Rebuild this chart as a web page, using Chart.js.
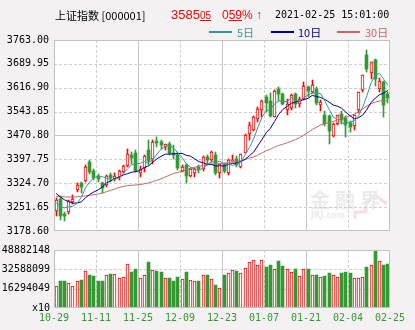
<!DOCTYPE html>
<html>
<head>
<meta charset="utf-8">
<script src="https://cdn.jsdelivr.net/npm/chart.js@4.4.0/dist/chart.umd.min.js"></script>
<style>
  body { margin: 0; width: 415px; height: 330px; overflow: hidden; position: relative; background: #f3f1f2; font-family: "Noto Sans CJK SC", sans-serif; }
  canvas { position: absolute; left: 0; }
  #kline { top: 0; }
  #volume { top: 240px; }
  .t { position: absolute; white-space: nowrap; line-height: 14px; }
  .mono { font-family: "DejaVu Sans Mono", monospace; }
  .key { position: absolute; height: 2px; width: 23px; }
</style>
</head>
<body>
<canvas id="kline" width="415" height="242"></canvas>
<canvas id="volume" width="415" height="90"></canvas>

<div class="t" style="left:55px;top:8px;font-size:11px;color:#000">上证指数 [000001]</div>
<div class="t" id="price" style="left:171px;top:8px;font-size:13px;color:#ff0000;font-family:'Liberation Sans',sans-serif"></div>
<div class="t" id="change" style="left:222px;top:8px;font-size:12px;color:#ff0000;font-family:'Liberation Sans',sans-serif"></div>
<div class="t mono" style="left:275px;top:8px;font-size:10px;color:#000">2021-02-25 15:01:00</div>

<div class="key" style="left:209px;top:31px;background:#339999"></div>
<div class="t" style="left:237px;top:25px;font-size:11px;color:#339999">5日</div>
<div class="key" style="left:271px;top:31px;background:#000099"></div>
<div class="t" style="left:298px;top:25px;font-size:11px;color:#000099">10日</div>
<div class="key" style="left:337px;top:31px;background:#cc6666"></div>
<div class="t" style="left:365px;top:25px;font-size:11px;color:#cc6666">30日</div>

<script>
// 交易日 (MM-DD)
const dates = ['10-29','10-30','11-02','11-03','11-04','11-05','11-06','11-09','11-10','11-11',
  '11-12','11-13','11-16','11-17','11-18','11-19','11-20','11-23','11-24','11-25',
  '11-26','11-27','11-30','12-01','12-02','12-03','12-04','12-07','12-08','12-09',
  '12-10','12-11','12-14','12-15','12-16','12-17','12-18','12-21','12-22','12-23',
  '12-24','12-25','12-28','12-29','12-30','12-31','01-04','01-05','01-06','01-07',
  '01-08','01-11','01-12','01-13','01-14','01-15','01-18','01-19','01-20','01-21',
  '01-22','01-25','01-26','01-27','01-28','01-29','02-01','02-02','02-03','02-04',
  '02-05','02-08','02-09','02-10','02-18','02-19','02-22','02-23','02-24','02-25'];

const opens = [3240, 3276, 3232, 3238, 3268, 3303, 3326, 3332, 3390, 3362,
  3346, 3326, 3318, 3350, 3338, 3343, 3360, 3378, 3412, 3417,
  3355, 3370, 3425, 3400, 3455, 3452, 3435, 3446, 3418, 3412,
  3362, 3380, 3348, 3356, 3374, 3368, 3404, 3395, 3410, 3355,
  3383, 3357, 3392, 3399, 3375, 3417, 3474, 3488, 3520, 3548,
  3590, 3576, 3528, 3612, 3597, 3548, 3556, 3598, 3566, 3584,
  3618, 3605, 3612, 3565, 3535, 3531, 3470, 3507, 3537, 3523,
  3510, 3500, 3548, 3610, 3718, 3661, 3703, 3613, 3636, 3597];

const highs = [3280, 3285, 3238, 3273, 3290, 3325, 3330, 3380, 3395, 3367,
  3352, 3330, 3350, 3355, 3356, 3366, 3380, 3428, 3420, 3425,
  3376, 3412, 3456, 3457, 3465, 3457, 3446, 3452, 3442, 3420,
  3382, 3385, 3372, 3372, 3380, 3409, 3410, 3423, 3420, 3385,
  3388, 3400, 3412, 3407, 3415, 3474, 3512, 3529, 3557, 3578,
  3595, 3600, 3610, 3620, 3602, 3584, 3598, 3600, 3590, 3634,
  3623, 3640, 3620, 3580, 3545, 3534, 3510, 3534, 3545, 3530,
  3515, 3535, 3605, 3656, 3731, 3697, 3705, 3646, 3637, 3605];

const lows = [3224, 3212, 3209, 3230, 3262, 3298, 3296, 3330, 3352, 3335,
  3330, 3294, 3312, 3328, 3332, 3336, 3356, 3373, 3385, 3358,
  3345, 3358, 3380, 3383, 3435, 3428, 3425, 3410, 3400, 3366,
  3360, 3325, 3343, 3345, 3355, 3362, 3380, 3390, 3350, 3340,
  3355, 3350, 3390, 3375, 3372, 3416, 3457, 3484, 3513, 3526,
  3544, 3527, 3526, 3577, 3563, 3533, 3549, 3556, 3558, 3580,
  3589, 3600, 3565, 3546, 3500, 3444, 3465, 3502, 3505, 3466,
  3482, 3489, 3540, 3605, 3665, 3644, 3622, 3604, 3527, 3570];

const closes = [3272.74, 3224.53, 3225.12, 3271.07, 3277.44, 3320.13, 3312.16, 3373.73, 3360.15, 3342.20,
  3338.68, 3310.10, 3346.97, 3339.90, 3347.30, 3363.09, 3377.73, 3414.49, 3402.82, 3362.33,
  3369.73, 3408.31, 3391.76, 3451.94, 3449.38, 3442.14, 3444.58, 3416.60, 3410.18, 3371.96,
  3373.28, 3347.19, 3369.12, 3367.23, 3366.98, 3404.87, 3394.90, 3420.57, 3356.78, 3382.32,
  3363.11, 3396.56, 3397.29, 3379.04, 3414.45, 3473.07, 3502.96, 3528.68, 3550.88, 3576.20,
  3570.11, 3531.50, 3608.34, 3598.65, 3565.90, 3566.38, 3596.22, 3566.28, 3583.09, 3621.26,
  3606.75, 3624.24, 3569.43, 3573.34, 3505.18, 3483.07, 3505.28, 3533.68, 3517.31, 3501.86,
  3496.33, 3532.44, 3603.49, 3655.09, 3675.36, 3696.17, 3642.44, 3636.36, 3564.08, 3585.05];

const volumes = [18980000, 23060000, 23060000, 21200000, 18980000, 23060000, 23870000, 31200000, 27940000, 27130000,
  22500000, 23060000, 27700000, 28760000, 28500000, 25750000, 26300000, 37500000, 30400000, 32600000,
  25500000, 27940000, 38500000, 32000000, 31200000, 30400000, 25500000, 25500000, 23300000, 26300000,
  24700000, 30400000, 23870000, 23300000, 22500000, 27700000, 27940000, 24400000, 19800000, 17100000,
  27900000, 29300000, 32000000, 31200000, 29600000, 33400000, 38500000, 40700000, 36700000, 40700000,
  34500000, 36100000, 32600000, 39300000, 35300000, 32600000, 30400000, 32600000, 27100000, 32600000,
  32600000, 27900000, 27900000, 26300000, 27100000, 29300000, 27700000, 26300000, 29600000, 30600000,
  29600000, 25300000, 25300000, 26300000, 34500000, 35900000, 48800000, 39900000, 36100000, 36900000];

// 10-29 之前的 29 个收盘价, 只用来算均线
const priorCloses = [3234.82, 3260.35, 3278.81, 3295.68, 3283.92, 3270.44, 3338.09, 3316.94, 3274.30, 3279.71,
  3223.18, 3219.42, 3217.53, 3224.36, 3218.05, 3272.08, 3358.47, 3359.75, 3340.48, 3332.18,
  3336.36, 3312.50, 3328.10, 3325.03, 3312.49, 3278.00, 3251.12, 3254.32, 3269.24];

const priceTicks = [3178.60, 3251.65, 3324.70, 3397.75, 3470.80, 3543.85, 3616.90, 3689.95, 3763.00];
const volumeTicks = [0, 16294049, 32588099, 48882148];

const UP = '#ff0000';
const DOWN = '#339933';
const GRID_STEP = 10;
const monoFont = { family: '"DejaVu Sans Mono", monospace', size: 10 };

const isUp = i => closes[i] >= opens[i];

function movingAverage(period) {
  const all = priorCloses.concat(closes);
  const offset = priorCloses.length;
  return closes.map((c, i) => {
    let sum = 0;
    for (let k = offset + i - period + 1; k <= offset + i; k++) sum += all[k];
    return { x: i + 0.5, y: sum / period };
  });
}

// 柱子对齐到整像素, 不然边缘发虚
const snapBars = {
  id: 'snapBars',
  afterDatasetsUpdate(chart) {
    chart.data.datasets.forEach((ds, i) => {
      const meta = chart.getDatasetMeta(i);
      if (meta.type !== 'bar') return;
      meta.data.forEach(el => {
        el.x = Math.floor(el.x) + 0.5;
        el.y = Math.round(el.y);
        el.base = Math.round(el.base);
      });
    });
  }
};

// 白底、网格、外框
const panelGrid = {
  id: 'panelGrid',
  beforeDatasetsDraw(chart, args, opts) {
    const { ctx, chartArea: a, scales: { x, y } } = chart;
    ctx.save();
    ctx.fillStyle = '#ffffff';
    ctx.fillRect(a.left, a.top, a.right - a.left, a.bottom - a.top);
    if (opts.watermark) drawWatermark(ctx, a);
    ctx.lineWidth = 1;
    const line = (x1, y1, x2, y2, solid) => {
      ctx.strokeStyle = solid ? '#c6c6c6' : '#cfcfcf';
      ctx.setLineDash(solid ? [] : [3, 2]);
      ctx.beginPath();
      ctx.moveTo(x1, y1);
      ctx.lineTo(x2, y2);
      ctx.stroke();
    };
    y.ticks.forEach(t => {
      if (t.value <= y.min || t.value >= y.max) return;
      const py = Math.round(y.getPixelForValue(t.value)) + 0.5;
      line(a.left, py, a.right, py, (opts.solidY || []).includes(t.value));
    });
    for (let v = GRID_STEP; v < x.max; v += GRID_STEP) {
      const px = Math.round(x.getPixelForValue(v)) + 0.5;
      line(px, a.top, px, a.bottom, v % (GRID_STEP * 2) === 0);
    }
    ctx.restore();
  },
  afterDatasetsDraw(chart) {
    const { ctx, chartArea: a } = chart;
    ctx.save();
    ctx.strokeStyle = '#c2c2c2';
    ctx.lineWidth = 1;
    ctx.strokeRect(Math.round(a.left) + 0.5, Math.round(a.top) + 0.5,
      Math.round(a.right - a.left) - 1, Math.round(a.bottom - a.top) - 1);
    ctx.restore();
  }
};

// 右下角的淡色水印
function drawWatermark(ctx, a) {
  const r = a.right, b = a.bottom;
  ctx.strokeStyle = '#f8dede';
  ctx.lineWidth = 3;
  ctx.beginPath();
  ctx.moveTo(r - 35, b - 12);
  ctx.lineTo(r - 35, b - 19);
  ctx.lineTo(r - 24, b - 19);
  ctx.lineTo(r - 24, b - 27);
  ctx.lineTo(r - 15, b - 36);
  ctx.lineTo(r - 3, b - 27);
  ctx.stroke();
  ctx.fillStyle = '#ebebeb';
  ctx.font = 'bold 20px "Noto Sans CJK SC"';
  ctx.textBaseline = 'alphabetic';
  ['金', '融', '界'].forEach((ch, k) => ctx.fillText(ch, r - 80 + k * 25, b - 23));
  ctx.font = 'bold 8px "DejaVu Sans"';
  ctx.fillText('JRJ.com', r - 79, b - 13);
}

const barBase = { grouped: false, borderSkipped: false };

new Chart(document.getElementById('kline'), {
  type: 'bar',
  data: {
    datasets: [
      { type: 'line', data: movingAverage(5), borderColor: '#339999', borderWidth: 1, pointRadius: 0, order: 1 },
      { type: 'line', data: movingAverage(10), borderColor: '#000099', borderWidth: 1, pointRadius: 0, order: 1 },
      { type: 'line', data: movingAverage(30), borderColor: '#cc6666', borderWidth: 1, pointRadius: 0, order: 1 },
      {
        ...barBase,
        data: closes.map((c, i) => ({ x: i + 0.5, y: [lows[i], highs[i]] })),
        backgroundColor: ctx => isUp(ctx.dataIndex) ? UP : DOWN,
        barThickness: 1,
        order: 3
      },
      {
        ...barBase,
        data: closes.map((c, i) => ({ x: i + 0.5, y: [opens[i], c] })),
        backgroundColor: ctx => isUp(ctx.dataIndex) ? '#ffffff' : DOWN,
        borderColor: ctx => isUp(ctx.dataIndex) ? UP : DOWN,
        borderWidth: ctx => isUp(ctx.dataIndex) ? 1 : 0,
        barThickness: 3,
        order: 2
      }
    ]
  },
  options: {
    responsive: false,
    animation: false,
    devicePixelRatio: 1,
    layout: { padding: { top: 40, right: 25, bottom: 6.3, left: 0 } },
    plugins: {
      legend: { display: false },
      tooltip: { enabled: false },
      panelGrid: { solidY: [3470.80], watermark: true }
    },
    scales: {
      x: { type: 'linear', min: 0, max: closes.length, offset: false, display: false },
      y: {
        min: priceTicks[0],
        max: priceTicks[priceTicks.length - 1],
        afterBuildTicks: s => { s.ticks = priceTicks.map(v => ({ value: v })); },
        afterFit: s => { s.width = 54; },
        grid: { display: false, drawTicks: false, tickLength: 0 },
        border: { display: false },
        ticks: { padding: 5, color: '#000', font: monoFont, callback: v => v.toFixed(2) }
      }
    }
  },
  plugins: [panelGrid, snapBars]
});

new Chart(document.getElementById('volume'), {
  type: 'bar',
  data: {
    datasets: [{
      ...barBase,
      data: volumes.map((v, i) => ({ x: i + 0.5, y: v })),
      backgroundColor: ctx => isUp(ctx.dataIndex) ? '#ffffff' : DOWN,
      borderColor: ctx => isUp(ctx.dataIndex) ? UP : DOWN,
      borderWidth: ctx => isUp(ctx.dataIndex) ? 1 : 0,
      barThickness: 3
    }]
  },
  options: {
    responsive: false,
    animation: false,
    devicePixelRatio: 1,
    layout: { padding: { top: 8.3, right: 25, bottom: 0, left: 0 } },
    plugins: {
      legend: { display: false },
      tooltip: { enabled: false },
      panelGrid: { solidY: [] }
    },
    scales: {
      x: {
        type: 'linear', min: 0, max: closes.length, offset: false,
        afterBuildTicks: s => {
          const ticks = [];
          for (let v = 0; v <= closes.length; v += GRID_STEP) ticks.push({ value: v });
          s.ticks = ticks;
        },
        afterFit: s => { s.height = 21.7; },
        grid: { display: false, drawTicks: false, tickLength: 0 },
        border: { display: false },
        ticks: {
          padding: 4, color: DOWN, font: monoFont, maxRotation: 0, autoSkip: false,
          callback: v => dates[Math.max(v - 1, 0)]
        }
      },
      y: {
        min: 0,
        max: volumeTicks[volumeTicks.length - 1],
        afterBuildTicks: s => { s.ticks = volumeTicks.map(v => ({ value: v })); },
        afterFit: s => { s.width = 54; },
        grid: { display: false, drawTicks: false, tickLength: 0 },
        border: { display: false },
        ticks: { padding: 4, color: '#000', font: monoFont, callback: v => v === 0 ? 'x10' : String(v) }
      }
    }
  },
  plugins: [panelGrid, snapBars]
});

// 标题栏: 最新价与涨跌幅
const last = closes[closes.length - 1];
const prev = closes[closes.length - 2];
const [pInt, pDec] = last.toFixed(2).split('.');
const pct = (last - prev) / prev * 100;
const [cInt, cDec] = Math.abs(pct).toFixed(2).split('.');
document.getElementById('price').innerHTML = `${pInt}<u style="font-size:10px">${pDec}</u>`;
document.getElementById('change').innerHTML = `${cInt}<u>${cDec}</u>% ${pct >= 0 ? '↑' : '↓'}`;
</script>
</body>
</html>
